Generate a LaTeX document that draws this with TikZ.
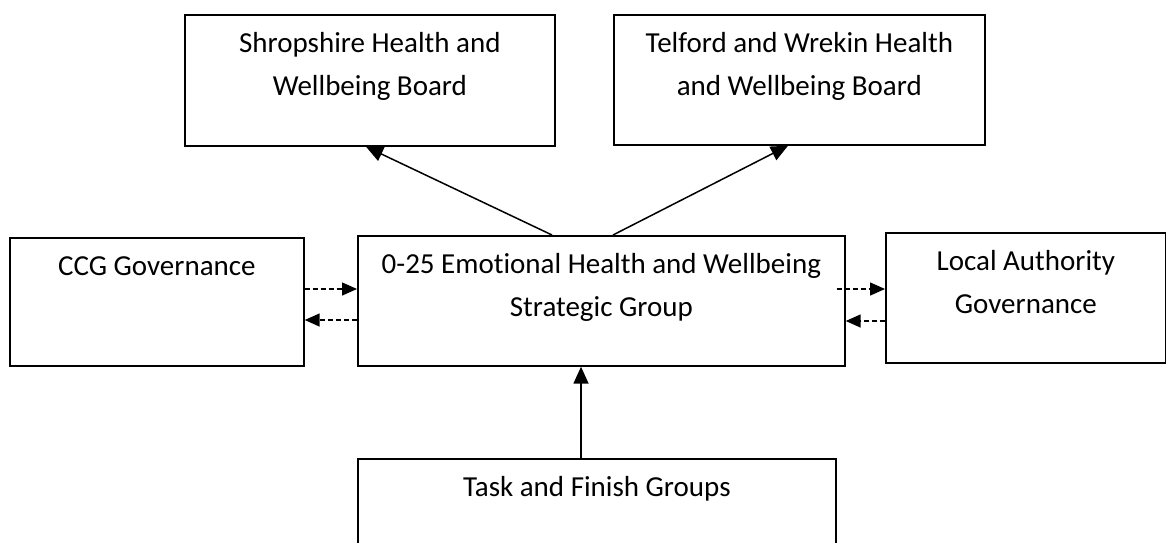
\documentclass[tikz,border=0pt]{standalone}
\usepackage{fontspec}
\setmainfont{Carlito}[Ligatures={NoCommon}]
\usetikzlibrary{arrows.meta,calc}
\newcommand{\tstrut}{\rule{0pt}{30pt}}
\begin{document}
\begin{tikzpicture}[x=1pt,y=-1pt,
  box/.style={draw=black, line width=1.7pt, fill=white, rectangle, anchor=north west, inner sep=0pt},
  tx/.style={anchor=north, inner sep=0pt, align=center, yshift=-8pt,
             font=\fontsize{29pt}{43pt}\selectfont},
  arr/.style={line width=1.5pt, -{Triangle[length=17pt,width=15pt]}},
  darr/.style={line width=1.5pt, dash pattern=on 5pt off 3pt, -{Triangle[length=15pt,width=13pt]}}]
\useasboundingbox (0,0) rectangle (1166,542);
\clip (0,0) rectangle (1166,542);
% boxes
\node[box, minimum width=370pt, minimum height=131pt,
  label={[tx]north:{\tstrut Shropshire Health and\\Wellbeing Board}}] (shrop) at (184,14) {};
\node[box, minimum width=371pt, minimum height=130pt,
  label={[tx]north:{\tstrut Telford and Wrekin Health\\and Wellbeing Board}}] (telf) at (613,14) {};
\node[box, minimum width=294pt, minimum height=128pt,
  label={[tx]north:{\tstrut CCG Governance}}] (ccg) at (9,237) {};
\node[box, minimum width=487pt, minimum height=130pt,
  label={[tx]north:{\tstrut 0-25 Emotional Health and Wellbeing\\Strategic Group}}] (cen) at (357,235) {};
\node[box, minimum width=280pt, minimum height=130pt,
  label={[tx]north:{\tstrut Local Authority\\Governance}}] (la) at (885,232) {};
\node[box, minimum width=478pt, minimum height=110pt,
  label={[tx]north:{\tstrut Task and Finish Groups}}] (task) at (357,458) {};
% solid arrows
\draw[arr] ($(cen.north west)+(195,0)$) -- ($(shrop.south west)+(182,0)$);
\draw[arr] ($(cen.north west)+(256,0)$) -- ($(telf.south west)+(175,0)$);
\draw[arr] ($(task.north west)+(224,0)$) -- ($(cen.south west)+(224,0)$);
% dashed arrows
\coordinate (d1) at ($(ccg.north east)+(0,52)$);
\coordinate (d2) at ($(ccg.north east)+(0,83)$);
\coordinate (d3) at ($(cen.north east)+(-9,54)$);
\coordinate (d4) at ($(la.north west)+(0,89)$);
\draw[darr] (d1) -- (d1 -| cen.west);
\draw[darr] (d2 -| cen.west) -- (d2);
\draw[darr] (d3) -- (d3 -| la.west);
\draw[darr] (d4) -- (d4 -| cen.east);
\end{tikzpicture}
\end{document}
